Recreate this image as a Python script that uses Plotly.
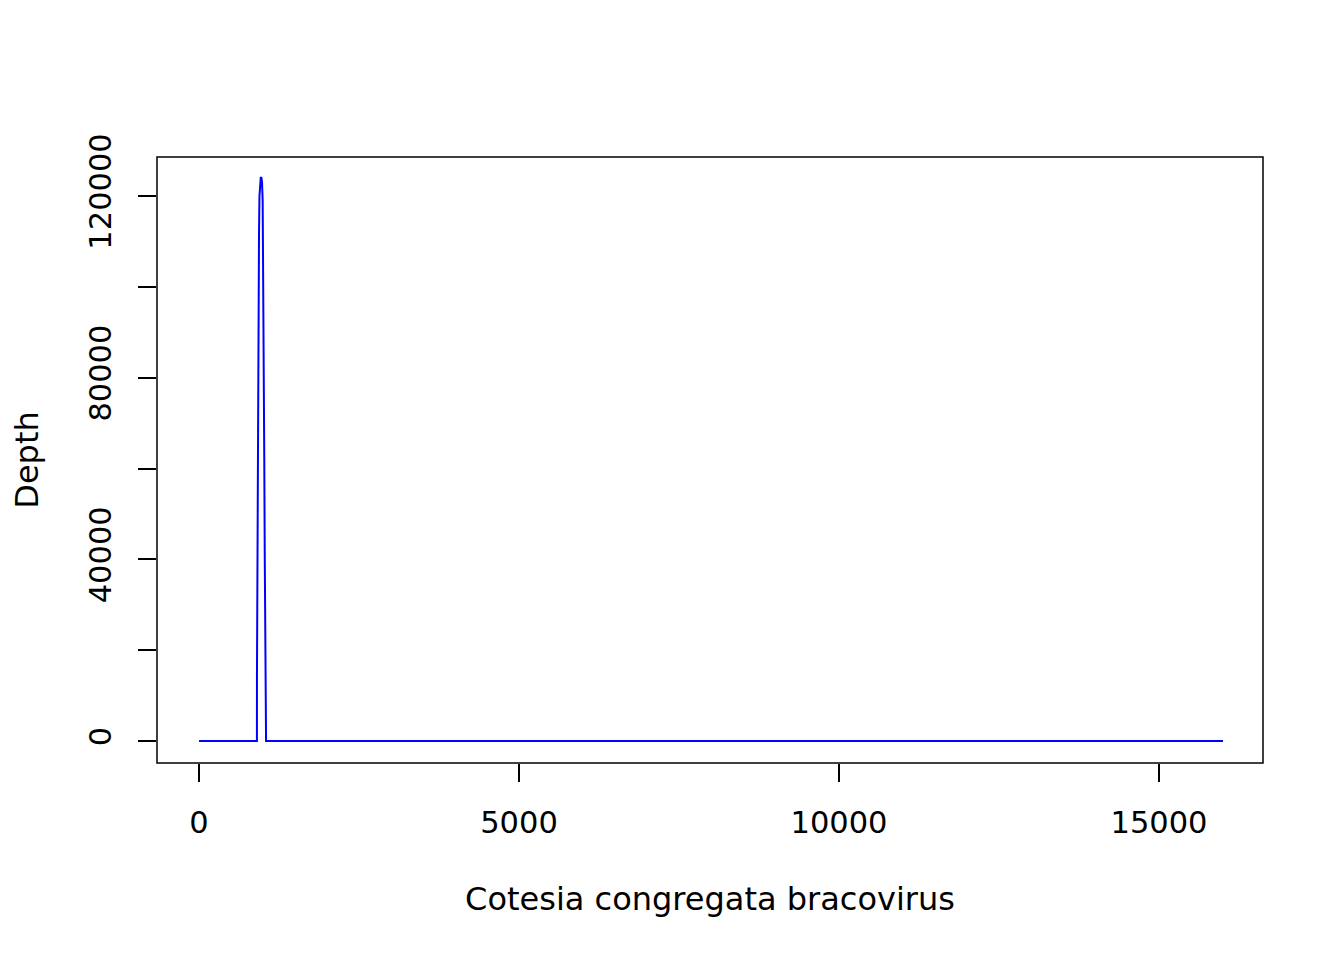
import plotly.graph_objects as go

# Genome positions (bp) and read depth
position = [1, 905, 906, 909, 915, 922, 930, 938, 945, 955, 965, 975, 985, 995, 1003, 1012, 1020, 1028, 1036, 1044, 1048, 16000]
depth = [0, 0, 15000, 29000, 50000, 75000, 98000, 112000, 120000, 123500, 124000, 124000, 123000, 119000, 105000, 85000, 62000, 40000, 20000, 5000, 0, 0]

x_ticks = [0, 5000, 10000, 15000]
y_ticks = [0, 20000, 40000, 60000, 80000, 100000, 120000]
y_tick_labels = ["0", "", "40000", "", "80000", "", "120000"]

x_title = "Cotesia congregata bracovirus"
y_title = "Depth"

FONT = "DejaVu Sans"

fig = go.Figure()
fig.add_trace(go.Scatter(x=position, y=depth, mode="lines",
                         line=dict(color="#0000FF", width=2), showlegend=False))

fig.update_layout(
    width=1344, height=960,
    margin=dict(l=149, r=89, t=149, b=205),
    paper_bgcolor="white", plot_bgcolor="white",
    font=dict(family=FONT, size=30, color="black"),
    xaxis=dict(range=[-656, 16625], tickvals=x_ticks, ticktext=[str(v) for v in x_ticks],
               ticks="outside", ticklen=18, tickwidth=1.5, tickcolor="black",
               showgrid=False, zeroline=False, showline=False,
               tickfont=dict(family=FONT, size=30.5), ticklabelstandoff=14,
               title=dict(text=x_title, font=dict(family=FONT, size=32), standoff=49)),
    yaxis=dict(range=[-4844, 128590], tickvals=y_ticks, ticktext=y_tick_labels,
               ticks="outside", ticklen=18, tickwidth=1.5, tickcolor="black",
               showgrid=False, zeroline=False, showline=False, tickangle=-90,
               tickfont=dict(family=FONT, size=30.5), ticklabelstandoff=15,
               title=dict(text=y_title, font=dict(family=FONT, size=32), standoff=37)),
)
fig.add_shape(type="rect", xref="paper", yref="paper", x0=0, y0=0, x1=1, y1=1,
              line=dict(color="black", width=1.5), fillcolor="rgba(0,0,0,0)")

fig.write_html("out.html")
